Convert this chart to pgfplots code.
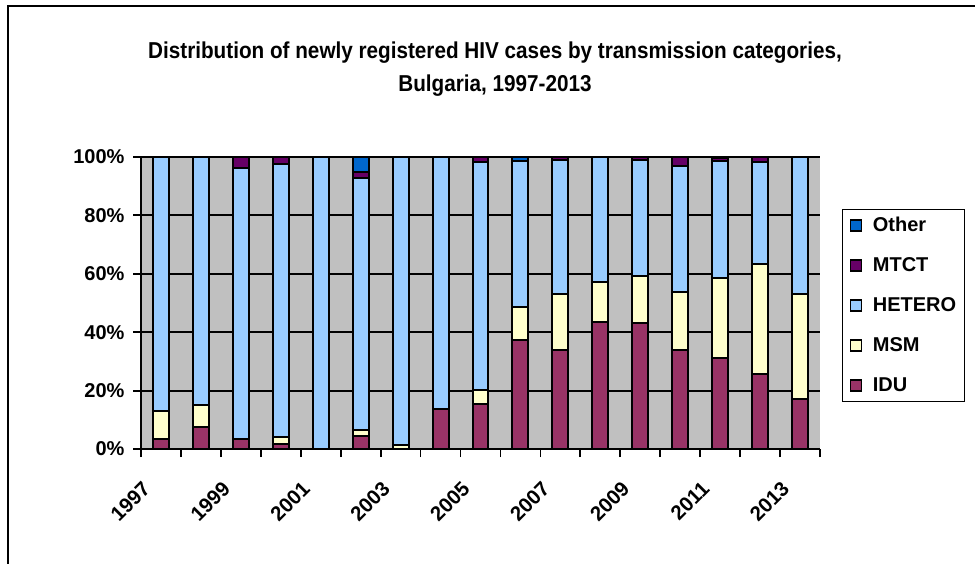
\documentclass[border=0pt]{standalone}
\usepackage{fontspec}
\setmainfont{Liberation Sans}
\newfontfamily\titlefont{Liberation Sans Bold}[FakeStretch=0.9]
\usepackage{pgfplots}
\usepackage{pgfplotstable}
\pgfplotsset{compat=1.18}
\definecolor{idu}{HTML}{993366}
\definecolor{msm}{HTML}{FFFFCC}
\definecolor{het}{HTML}{99CCFF}
\definecolor{mtct}{HTML}{660066}
\definecolor{oth}{HTML}{0066CC}
\definecolor{bg}{HTML}{C0C0C0}
\pgfplotstableread{
x idu msm het mtct oth
0 3.4 9.5 87.1 0 0
1 7.5 7.5 85.0 0 0
2 3.4 0 92.8 3.8 0
3 1.8 2.3 93.6 2.3 0
4 0 0 100 0 0
5 4.6 2.0 86.3 2.1 5.0
6 0 1.4 98.6 0 0
7 13.6 0 86.4 0 0
8 15.5 4.8 78.1 1.6 0
9 37.4 11.2 50.0 0 1.4
10 34.0 19.2 45.7 1.1 0
11 43.5 13.8 42.7 0 0
12 43.0 16.2 39.7 1.1 0
13 34.0 19.9 43.1 3.0 0
14 31.3 27.4 40.0 1.0 0.3
15 25.7 37.8 34.9 1.6 0
16 17.0 36.2 46.8 0 0
}\data
\pgfplotsset{
  mybar/.style={fill=#1, draw=black, line width=2pt,
    legend image code/.code={\draw[fill=#1, draw=black, line width=1.4pt] (0pt,-5.5pt) rectangle (11pt,5.5pt);}},
}
\begin{document}
\begin{tikzpicture}
\useasboundingbox (0,0) rectangle (975pt,563pt);
\draw[line width=1.5pt] (8pt,-5pt) -- (8pt,557pt) -- (985pt,557pt);
\node[font=\titlefont\fontsize{23}{26}\selectfont, anchor=base] at (495pt,504pt) {Distribution of newly registered HIV cases by transmission categories,};
\node[font=\titlefont\fontsize{23}{26}\selectfont, anchor=base] at (495pt,471pt) {Bulgaria, 1997-2013};
\begin{axis}[
  at={(141pt,114pt)}, anchor=south west,
  scale only axis, width=679pt, height=292pt,
  ybar stacked, bar width=0.4,
  xmin=-0.5, xmax=16.5, ymin=0, ymax=100,
  axis background/.style={fill=bg},
  axis x line*=bottom, axis y line*=left, axis line style={-, black, line width=1.8pt},
  ytick={0,20,40,60,80,100},
  yticklabels={0\%,20\%,40\%,60\%,80\%,100\%},
  ymajorgrids, grid style={black, line width=1.8pt},
  xtick={-0.5,0.5,...,16.5}, xticklabels={},
  extra x ticks={0,2,4,6,8,10,12,14,16},
  extra x tick labels={1997,1999,2001,2003,2005,2007,2009,2011,2013},
  extra x tick style={major tick length=0pt, grid=none},
  tick align=outside, major tick length=8pt,
  tick style={black, line width=1.8pt},
  xticklabel style={font=\bfseries\fontsize{20.5}{20}\selectfont, anchor=east, xshift=-12pt, yshift=-34pt, rotate=45},
  yticklabel style={font=\bfseries\fontsize{20}{20}\selectfont, xshift=-5pt},
  reverse legend,
  legend cell align=left,
  legend style={at={(1.0324,0.822)}, anchor=north west, draw=black, line width=1pt,
    font=\bfseries\fontsize{20}{20}\selectfont, row sep=20.5pt, inner xsep=7pt, inner ysep=6pt,
    /tikz/every odd column/.append style={column sep=10pt},
    nodes={inner xsep=1pt}},
]
\addplot[mybar=idu] table[x=x,y=idu]{\data};
\addplot[mybar=msm] table[x=x,y=msm]{\data};
\addplot[mybar=het] table[x=x,y=het]{\data};
\addplot[mybar=mtct] table[x=x,y=mtct]{\data};
\addplot[mybar=oth] table[x=x,y=oth]{\data};
\legend{IDU,MSM,HETERO,MTCT,Other}
\end{axis}
\end{tikzpicture}
\end{document}
